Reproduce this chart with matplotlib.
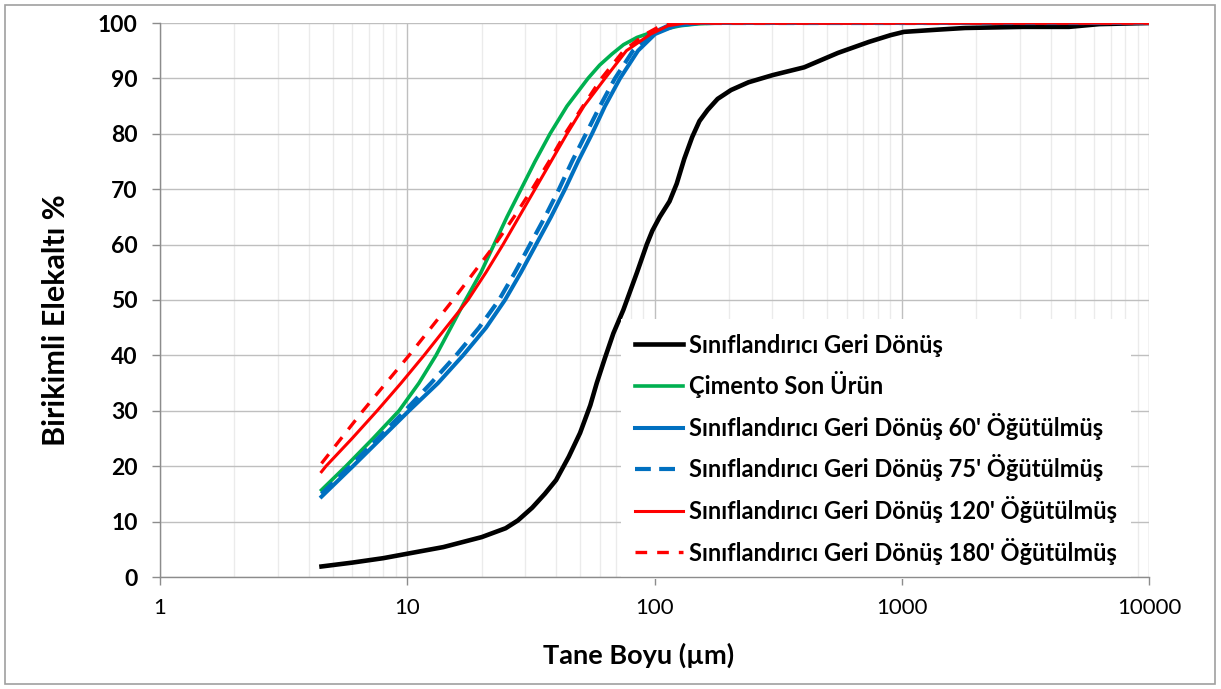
import numpy as np
import matplotlib
matplotlib.use("Agg")
import matplotlib.pyplot as plt
from matplotlib.patches import Rectangle
from matplotlib.ticker import LogLocator, FixedLocator, NullFormatter

plt.rcParams['font.family'] = ['Lato', 'DejaVu Sans']

# Sınıflandırıcı Geri Dönüş (black)
x_geri = [4.5, 6, 8, 10, 14, 20, 25, 28, 32, 36, 40, 45, 50, 55, 58.4, 63, 68.2, 74.8,
          85, 93, 98, 105, 115, 123, 132, 142, 152, 164, 180, 204, 240, 301, 403,
          552, 738, 900, 1021, 1400, 1803, 3090, 4745, 6300, 10000]
y_geri = [1.9, 2.6, 3.4, 4.2, 5.4, 7.2, 8.8, 10.2, 12.5, 15, 17.5, 21.7, 26, 31, 35, 39.5, 44, 48.2,
          55, 60, 62.5, 65, 67.8, 71, 75.5, 79.4, 82.3, 84.3, 86.3, 87.9, 89.3, 90.6, 92,
          94.6, 96.6, 97.8, 98.4, 98.8, 99.1, 99.3, 99.3, 99.8, 100]

# Çimento Son Ürün (green)
x_cimento = [4.5, 5.65, 7.27, 9.26, 11.15, 13.07, 15.0, 17.2, 19.88, 22.43, 25.32, 28.85,
             32.86, 37.79, 44.27, 53.83, 60.0, 67.3, 75.0, 85.0, 100.0, 127.0, 150.0, 184.0, 10000]
y_cimento = [15.7, 20, 25, 30, 35, 40, 45, 50, 55, 60, 65, 70,
             75, 80, 85, 90, 92.4, 94.4, 96.1, 97.4, 98.5, 99.5, 99.85, 100, 100]

# 60' (blue solid)
x_60 = [4.5, 6.03, 7.83, 10.16, 13.32, 16.81, 20.83, 24.85, 28.85, 33.17, 38.14, 43.45,
        49.05, 55.88, 63.07, 72.54, 85.77, 100.5, 121.0, 152.8, 10000]
y_60 = [14.5, 20, 25, 30, 35, 40, 45, 50, 55, 60, 65, 70,
        75, 80, 85, 90, 95, 98, 99.5, 100, 100]

# 75' (blue dashed)
x_75 = [4.5, 5.87, 7.61, 9.79, 12.48, 15.75, 19.51, 23.5, 27.29, 31.37, 36.07, 41.09,
        46.38, 52.83, 60.2, 69.21, 81.87, 95.9, 113.4, 139.2, 10000]
y_75 = [15.0, 20, 25, 30, 35, 40, 45, 50, 55, 60, 65, 70,
        75, 80, 85, 90, 95, 98, 99.5, 100, 100]

# 120' (red solid)
x_120 = [4.5, 4.69, 5.98, 7.55, 9.44, 11.69, 14.34, 17.6, 20.83, 24.39, 28.31, 32.86,
         38.14, 44.27, 51.86, 63.07, 77.0, 96.5, 113.4, 132.9, 10000]
y_120 = [19.0, 20, 25, 30, 35, 40, 45, 50, 55, 60, 65, 70,
         75, 80, 85, 90, 95, 98, 99.5, 100, 100]

# 180' (red dashed)
x_180 = [4.5, 5.4, 6.62, 8.2, 10.17, 12.48, 15.31, 18.62, 22.63, 27.03, 31.97, 37.44,
         43.45, 51.37, 61.0, 75.0, 92.0, 106.0, 119.0, 10000]
y_180 = [20.5, 25, 30, 35, 40, 45, 50, 55, 60, 65, 70, 75,
         80, 85, 90, 95, 98, 99.5, 100, 100]

labels = ["Sınıflandırıcı Geri Dönüş",
          "Çimento Son Ürün",
          "Sınıflandırıcı Geri Dönüş 60' Öğütülmüş",
          "Sınıflandırıcı Geri Dönüş 75' Öğütülmüş",
          "Sınıflandırıcı Geri Dönüş 120' Öğütülmüş",
          "Sınıflandırıcı Geri Dönüş 180' Öğütülmüş"]

fig = plt.figure(figsize=(12.21, 6.89), dpi=100)
ax = fig.add_axes([160 / 1221, 112 / 689, 989 / 1221, 554 / 689])

ax.plot(x_geri, y_geri, color='black', lw=3.3, label=labels[0], solid_joinstyle='round')
ax.plot(x_cimento, y_cimento, color='#00B050', lw=2.6, label=labels[1], solid_joinstyle='round')
ax.plot(x_60, y_60, color='#0070C0', lw=2.9, label=labels[2], solid_joinstyle='round')
ax.plot(x_75, y_75, color='#0070C0', lw=3.0, ls=(0, (3.8, 2.0)), label=labels[3])
ax.plot(x_120, y_120, color='#FF0000', lw=2.2, label=labels[4], solid_joinstyle='round')
ax.plot(x_180, y_180, color='#FF0000', lw=2.4, ls=(0, (3.5, 3.0)), label=labels[5])

ax.set_xscale('log')
ax.set_xlim(1, 10000)
ax.set_ylim(0, 100)
ax.xaxis.set_major_locator(FixedLocator([1, 10, 100, 1000, 10000]))
ax.set_xticklabels(['1', '10', '100', '1000', '10000'])
ax.xaxis.set_minor_locator(LogLocator(base=10, subs=np.arange(2, 10)))
ax.xaxis.set_minor_formatter(NullFormatter())
ax.set_yticks(np.arange(0, 101, 10))

ax.grid(True, which='major', color='#BFBFBF', lw=1.0)
ax.grid(True, which='minor', axis='x', color='#EBEBEB', lw=1.0)
ax.set_axisbelow(True)

for s in ['top', 'right']:
    ax.spines[s].set_visible(False)
for s in ['left', 'bottom']:
    ax.spines[s].set_color('#8C8C8C')
    ax.spines[s].set_linewidth(1.0)
    ax.spines[s].set_zorder(10)

ax.tick_params(axis='both', which='major', direction='out', length=6, color='#8C8C8C', width=1)
ax.tick_params(axis='x', which='minor', length=0)
ax.tick_params(axis='y', labelsize=16.5, pad=10)
ax.tick_params(axis='x', labelsize=16, pad=9)
for t in ax.get_yticklabels():
    t.set_fontweight('bold')

ax.set_xlabel("Tane Boyu (µm)", fontsize=19.5, fontweight='bold')
ax.set_ylabel("Birikimli Elekaltı %", fontsize=22, fontweight='bold')
ax.xaxis.set_label_coords(0.484, -0.141)
ax.xaxis.label.set_va('center')
ax.yaxis.set_label_coords(-0.105, 0.464)
ax.yaxis.label.set_va('center')

leg = ax.legend(loc='upper left', bbox_to_anchor=(0.466, 0.465), prop={'size': 17, 'weight': 'bold'},
                frameon=True, fancybox=False, framealpha=1, facecolor='white', edgecolor='none',
                handlelength=2.03, handletextpad=0.25, labelspacing=0.62, borderpad=0.6,
                borderaxespad=0)
leg.set_zorder(8)

fig.patches.append(Rectangle((5 / 1221, 5 / 689), 1210 / 1221, 679 / 689, transform=fig.transFigure,
                             fill=False, edgecolor='#A0A0A0', lw=1.2))

fig.savefig('out.png', dpi=100)
